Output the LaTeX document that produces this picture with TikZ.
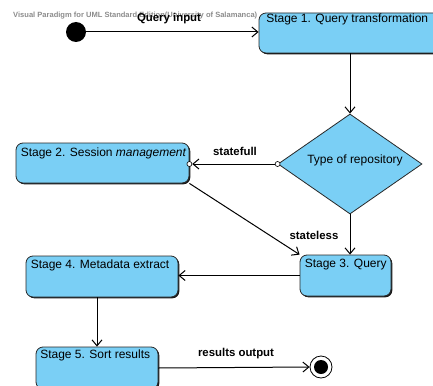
\documentclass[tikz,border=0pt]{standalone}
\usepackage{fontspec}
\setmainfont{Liberation Sans}
\usetikzlibrary{arrows.meta,shapes.geometric,shadows}
\definecolor{stfill}{RGB}{122,207,245}
\definecolor{stline}{RGB}{40,40,40}
\begin{document}
\begin{tikzpicture}[x=1pt,y=-1pt,
  stage/.style={draw=stline, line width=0.8pt, fill=stfill, rounded corners=7pt, inner sep=0pt,
     drop shadow={shadow xshift=1.3pt, shadow yshift=-1.3pt, fill=black, opacity=0.9}},
  stxt/.style={font=\fontsize{12}{14}\selectfont, inner sep=0pt, anchor=north west, text=black},
  lbl/.style={font=\fontsize{11.4}{13}\selectfont\bfseries, inner sep=0pt, text=black},
  flow/.style={line width=1pt, draw=black, -{Straight Barb[length=6pt,width=10pt,line width=1pt]}},
  dot/.style={circle, draw=black, fill=white, line width=0.6pt, minimum size=5pt, inner sep=0pt},
]
\clip (0,0) rectangle (433,385);
\useasboundingbox (0,0) rectangle (433,385);
\fill[white] (0,0) rectangle (433,385);

% watermark
\node[font=\fontsize{7.55}{8}\selectfont\bfseries, text=black!45, anchor=west, inner sep=0pt] (wm) at (13,16)
  {Visual Paradigm for UML Standard Edition(University of Salamanca)};

% states
\node[stage, minimum width=190, minimum height=40] (s1) at (354,33) {};
\node[stxt] (t1) at ([shift={(7.5,1.5)}]s1.north west) {Stage 1. Query transformation};

\node[diamond, draw=stline, fill=stfill, line width=0.8pt, minimum width=144, minimum height=100, inner sep=0pt] (d) at (350,164) {};
\node[stxt, anchor=center] (dt) at ([shift={(5,-4)}]d.center) {Type of repository};

\node[stage, minimum width=173, minimum height=40] (s2) at (102.5,163) {};
\node[stxt] (t2) at ([shift={(5,5)}]s2.north west) {Stage 2. Session \textit{management}};

\node[stage, minimum width=91, minimum height=41] (s3) at (345.5,275.5) {};
\node[stxt] (t3) at ([shift={(5,4)}]s3.north west) {Stage 3. Query};

\node[stage, minimum width=152, minimum height=41] (s4) at (102,276.5) {};
\node[stxt] (t4) at ([shift={(5,4)}]s4.north west) {Stage 4. Metadata extract};

\node[stage, minimum width=122, minimum height=42] (s5) at (97,368) {};
\node[stxt] (t5) at ([shift={(4.5,3)}]s5.north west) {Stage 5. Sort results};

% initial and final
\node[circle, fill=black, minimum size=20pt, inner sep=0pt] (ini) at (76,32) {};
\node[circle, draw=black, line width=0.8pt, fill=white, minimum size=22pt, inner sep=0pt] (fin) at (321,367) {};
\node[circle, fill=black, minimum size=14pt, inner sep=0pt] (fin2) at (fin.center) {};

% connectors
\coordinate (a1) at (ini.east -| s1.west);
\draw[flow] (ini.east) -- (a1);
\node[lbl] (l1) at (169,19) {Query input};

\coordinate (a2) at (d.north |- s1.south);
\draw[flow] (a2) -- (d.north);

\coordinate (c2) at (d.west -| s2.east);
\node[dot] (o1) at (d.west) {};
\node[dot] (o2) at (c2) {};
\draw[flow] (o1) -- (o2);
\node[lbl] (l2) at (235,151) {statefull};

\draw[flow] (s2.south east) -- (s3.north west);
\node[lbl] (l3) at (314,235) {stateless};

\coordinate (a3) at (d.south |- s3.north);
\draw[flow] (d.south) -- (a3);

\coordinate (a4) at (s3.west -| s4.east);
\draw[flow] (s3.west) -- (a4);

\coordinate (a5) at (s5.north |- s4.south);
\draw[flow] (a5) -- (s5.north);

\draw[flow] (s5.east) -- (fin.west);
\node[lbl] (l4) at (236,354) {results output};
\end{tikzpicture}
\end{document}
